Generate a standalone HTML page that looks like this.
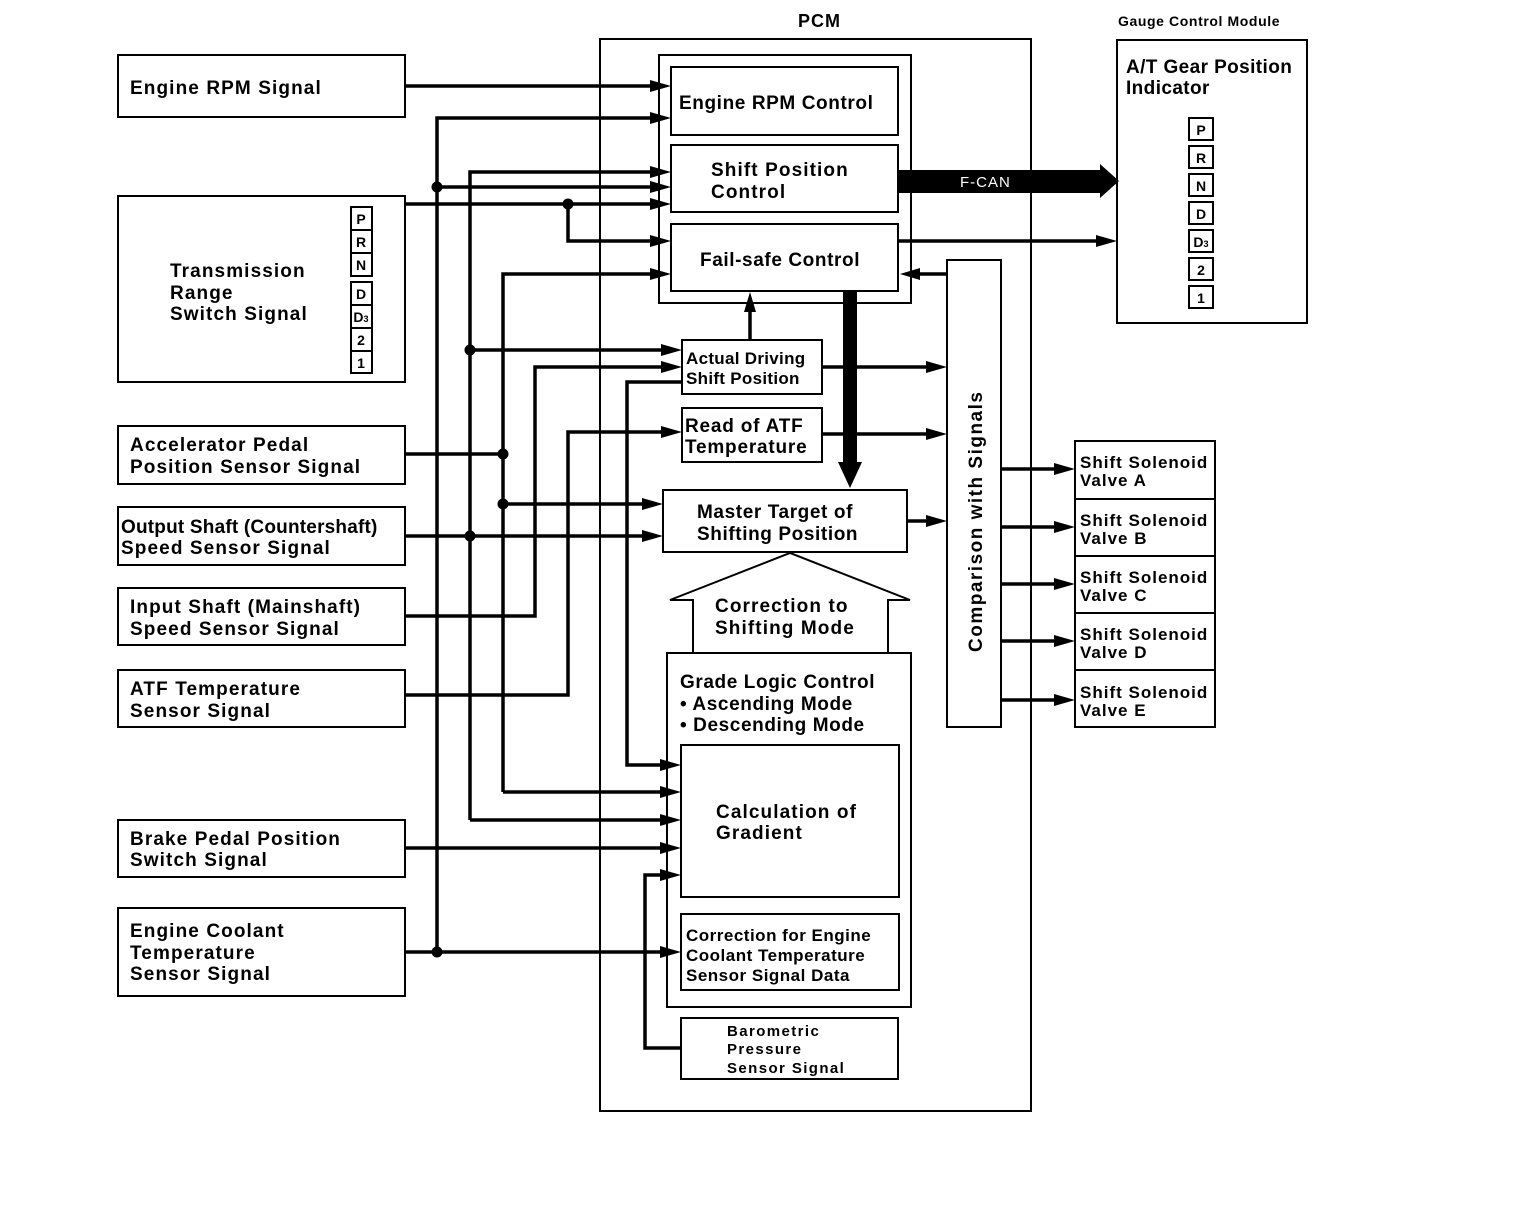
<!DOCTYPE html>
<html><head><meta charset="utf-8"><style>
html,body{margin:0;padding:0;background:#fff;}
svg{display:block;}
text{font-family:"Liberation Sans",Arial,sans-serif;font-weight:bold;fill:#000;}
</style></head><body>
<svg width="1536" height="1212" viewBox="0 0 1536 1212" xmlns="http://www.w3.org/2000/svg">
<g fill="none" stroke="#000" stroke-width="2">
<rect x="118" y="55" width="287" height="62"/>
<rect x="118" y="196" width="287" height="186"/>
<rect x="118" y="426" width="287" height="58"/>
<rect x="118" y="507" width="287" height="58"/>
<rect x="118" y="588" width="287" height="57"/>
<rect x="118" y="670" width="287" height="57"/>
<rect x="118" y="820" width="287" height="57"/>
<rect x="118" y="908" width="287" height="88"/>
<rect x="351" y="207" width="21" height="23"/>
<rect x="351" y="230" width="21" height="23"/>
<rect x="351" y="253" width="21" height="23"/>
<rect x="351" y="282" width="21" height="23"/>
<rect x="351" y="305" width="21" height="23"/>
<rect x="351" y="328" width="21" height="23"/>
<rect x="351" y="351" width="21" height="22"/>
<rect x="600" y="39" width="431" height="1072"/>
<rect x="659" y="55" width="252" height="248"/>
<rect x="671" y="67" width="227" height="68"/>
<rect x="671" y="145" width="227" height="67"/>
<rect x="671" y="224" width="227" height="67"/>
<rect x="682" y="340" width="140" height="54"/>
<rect x="682" y="408" width="140" height="54"/>
<rect x="663" y="490" width="244" height="62"/>
<rect x="667" y="653" width="244" height="354"/>
<rect x="681" y="745" width="218" height="152"/>
<rect x="681" y="914" width="218" height="76"/>
<rect x="681" y="1018" width="217" height="61"/>
<path d="M693 653 V600 H670 L790 553 L910 600 H888 V653"/>
<rect x="947" y="260" width="54" height="467"/>
<rect x="1075" y="441" width="140" height="286"/>
<path d="M1075 499 H1215 M1075 556 H1215 M1075 613 H1215 M1075 670 H1215"/>
<rect x="1117" y="40" width="190" height="283"/>
<rect x="1189" y="118" width="24" height="22"/>
<rect x="1189" y="146" width="24" height="22"/>
<rect x="1189" y="174" width="24" height="22"/>
<rect x="1189" y="202" width="24" height="22"/>
<rect x="1189" y="230" width="24" height="22"/>
<rect x="1189" y="258" width="24" height="22"/>
<rect x="1189" y="286" width="24" height="22"/>
</g>
<g fill="none" stroke="#000" stroke-width="3.5">
<path d="M405 86 H660"/>
<path d="M437 952 V118 H660"/>
<path d="M437 187 H660"/>
<path d="M470 820 H660 M470 820 V172 H660"/>
<path d="M470 350 H672"/>
<path d="M405 204 H660"/>
<path d="M568 204 V241 H660"/>
<path d="M503 792 H660 M503 792 V274 H660"/>
<path d="M405 454 H503"/>
<path d="M503 504 H652"/>
<path d="M405 536 H652"/>
<path d="M405 616 H535 V367 H672"/>
<path d="M405 695 H568 V432 H672"/>
<path d="M682 382 H627 V765 H660"/>
<path d="M405 848 H660"/>
<path d="M405 952 H662"/>
<path d="M681 1048 H645 V875 H660"/>
<path d="M750 340 V305"/>
<path d="M822 367 H935 M822 434 H935 M907 521 H935"/>
<path d="M947 274 H915"/>
<path d="M899 241 H1100"/>
<path d="M1001 469 H1062 M1001 527 H1062 M1001 584 H1062 M1001 641 H1062 M1001 700 H1062"/>
</g>
<line x1="850" y1="291" x2="850" y2="465" stroke="#000" stroke-width="14"/>
<polygon points="838,462 862,462 850,488" fill="#000"/>
<rect x="899" y="170" width="205" height="23" fill="#000"/>
<polygon points="1100,164 1119,181 1100,198" fill="#000"/>
<text x="960" y="187" font-size="15" style="fill:#fff;font-weight:normal" letter-spacing="1">F-CAN</text>
<g fill="#000">
<polygon points="650,80 671,86 650,92"/>
<polygon points="650,112 671,118 650,124"/>
<polygon points="650,166 671,172 650,178"/>
<polygon points="650,181 671,187 650,193"/>
<polygon points="650,198 671,204 650,210"/>
<polygon points="650,235 671,241 650,247"/>
<polygon points="650,268 671,274 650,280"/>
<polygon points="661,344 682,350 661,356"/>
<polygon points="661,361 682,367 661,373"/>
<polygon points="661,426 682,432 661,438"/>
<polygon points="642,498 663,504 642,510"/>
<polygon points="642,530 663,536 642,542"/>
<polygon points="660,759 681,765 660,771"/>
<polygon points="660,786 681,792 660,798"/>
<polygon points="660,814 681,820 660,826"/>
<polygon points="660,842 681,848 660,854"/>
<polygon points="660,869 681,875 660,881"/>
<polygon points="660,946 681,952 660,958"/>
<polygon points="744,312 750,292 756,312"/>
<polygon points="926,361 947,367 926,373"/>
<polygon points="926,428 947,434 926,440"/>
<polygon points="926,515 947,521 926,527"/>
<polygon points="920,268 900,274 920,280"/>
<polygon points="1096,235 1117,241 1096,247"/>
<polygon points="1054,463 1075,469 1054,475"/>
<polygon points="1054,521 1075,527 1054,533"/>
<polygon points="1054,578 1075,584 1054,590"/>
<polygon points="1054,635 1075,641 1054,647"/>
<polygon points="1054,694 1075,700 1054,706"/>
<circle cx="437" cy="187" r="5.5"/>
<circle cx="437" cy="952" r="5.5"/>
<circle cx="470" cy="350" r="5.5"/>
<circle cx="470" cy="536" r="5.5"/>
<circle cx="503" cy="454" r="5.5"/>
<circle cx="503" cy="504" r="5.5"/>
<circle cx="568" cy="204" r="5.5"/>
</g>
<g font-size="19" letter-spacing="1.1">
<text x="130" y="94">Engine RPM Signal</text>
<text x="170" y="277">Transmission</text>
<text x="170" y="299">Range</text>
<text x="170" y="320">Switch Signal</text>
<text x="130" y="451">Accelerator Pedal</text>
<text x="130" y="473">Position Sensor Signal</text>
<text x="121" y="533" letter-spacing="0.2">Output Shaft (Countershaft)</text>
<text x="121" y="554">Speed Sensor Signal</text>
<text x="130" y="613">Input Shaft (Mainshaft)</text>
<text x="130" y="635">Speed Sensor Signal</text>
<text x="130" y="695">ATF Temperature</text>
<text x="130" y="717">Sensor Signal</text>
<text x="130" y="845">Brake Pedal Position</text>
<text x="130" y="866">Switch Signal</text>
<text x="130" y="937">Engine Coolant</text>
<text x="130" y="959">Temperature</text>
<text x="130" y="980">Sensor Signal</text>
<text x="679" y="109" letter-spacing="0.6">Engine RPM Control</text>
<text x="711" y="176">Shift Position</text>
<text x="711" y="198">Control</text>
<text x="700" y="266" letter-spacing="0.6">Fail-safe Control</text>
<text x="685" y="432" letter-spacing="0.8">Read of ATF</text>
<text x="685" y="453" letter-spacing="0.8">Temperature</text>
<text x="697" y="518" letter-spacing="0.6">Master Target of</text>
<text x="697" y="540" letter-spacing="0.6">Shifting Position</text>
<text x="715" y="612">Correction to</text>
<text x="715" y="634">Shifting Mode</text>
<text x="680" y="688" letter-spacing="0.6">Grade Logic Control</text>
<text x="680" y="710" letter-spacing="0.6">• Ascending Mode</text>
<text x="680" y="731" letter-spacing="0.6">• Descending Mode</text>
<text x="716" y="818">Calculation of</text>
<text x="716" y="839">Gradient</text>
<text x="1126" y="73" letter-spacing="0.4">A/T Gear Position</text>
<text x="1126" y="94" letter-spacing="0.4">Indicator</text>
<text x="798" y="27" font-size="18" letter-spacing="1">PCM</text>
<text transform="translate(982,652) rotate(-90)" letter-spacing="1.5">Comparison with Signals</text>
</g>
<g font-size="17" letter-spacing="1">
<text x="686" y="364" letter-spacing="0.3">Actual Driving</text>
<text x="686" y="384" letter-spacing="0.3">Shift Position</text>
<text x="686" y="941" letter-spacing="0.5">Correction for Engine</text>
<text x="686" y="961" letter-spacing="0.5">Coolant Temperature</text>
<text x="686" y="981" letter-spacing="0.5">Sensor Signal Data</text>
<text x="1080" y="468">Shift Solenoid</text>
<text x="1080" y="486">Valve A</text>
<text x="1080" y="526">Shift Solenoid</text>
<text x="1080" y="544">Valve B</text>
<text x="1080" y="583">Shift Solenoid</text>
<text x="1080" y="601">Valve C</text>
<text x="1080" y="640">Shift Solenoid</text>
<text x="1080" y="658">Valve D</text>
<text x="1080" y="698">Shift Solenoid</text>
<text x="1080" y="716">Valve E</text>
</g>
<g font-size="15" letter-spacing="1.4">
<text x="727" y="1036">Barometric</text>
<text x="727" y="1054">Pressure</text>
<text x="727" y="1073">Sensor Signal</text>
<text x="1118" y="26" font-size="14" letter-spacing="0.6">Gauge Control Module</text>
</g>
<g font-size="14" text-anchor="middle">
<text x="361" y="224">P</text><text x="361" y="247">R</text><text x="361" y="270">N</text>
<text x="361" y="299">D</text><text x="361" y="322">D<tspan font-size="9">3</tspan></text><text x="361" y="345">2</text><text x="361" y="368">1</text>
<text x="1201" y="135">P</text><text x="1201" y="163">R</text><text x="1201" y="191">N</text>
<text x="1201" y="219">D</text><text x="1201" y="247">D<tspan font-size="9">3</tspan></text><text x="1201" y="275">2</text><text x="1201" y="303">1</text>
</g>
</svg>
</body></html>
